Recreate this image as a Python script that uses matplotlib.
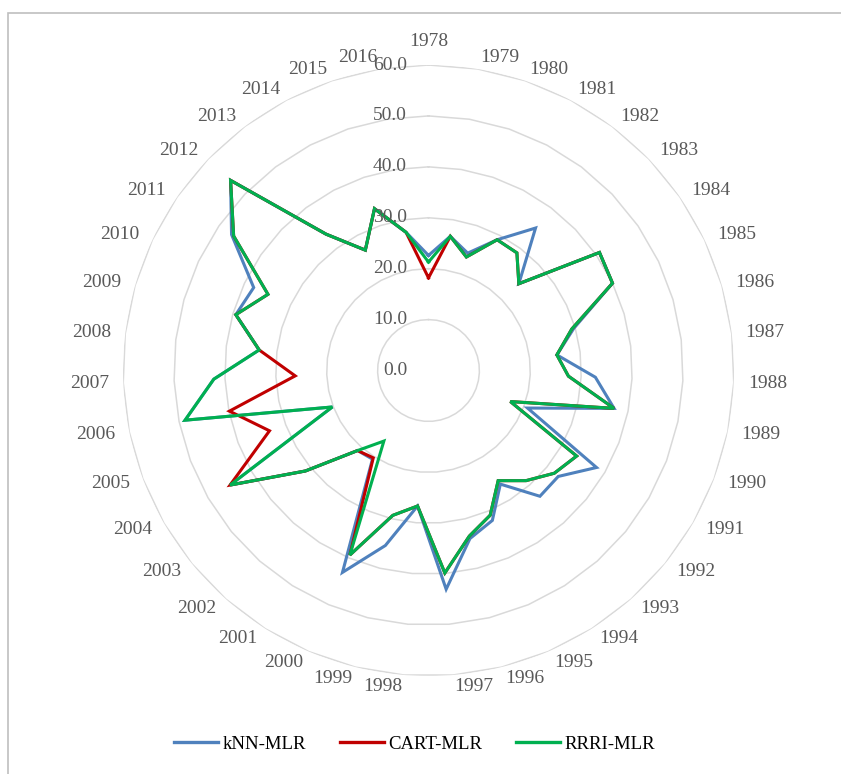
import matplotlib
matplotlib.use("Agg")
import matplotlib.pyplot as plt
from matplotlib.lines import Line2D
from matplotlib.patches import Rectangle
import numpy as np

years = [str(y) for y in range(1978, 2017)]

knn_mlr = [22.6, 26.7, 24.3, 29.0, 35.0, 24.6, 40.8, 40.0, 29.7, 25.4,
           32.8, 37.2, 20.8, 38.1, 32.9, 33.0, 26.4, 32.0, 34.0, 43.1,
           26.7, 35.4, 43.1, 20.6, 21.0, 31.2, 45.0, 20.2, 48.8, 42.2,
           33.5, 39.4, 38.0, 47.0, 53.9, 33.5, 26.7, 33.5, 27.5]
cart_mlr = [18.2, 26.7, 23.5, 29.0, 28.9, 24.6, 40.8, 40.0, 29.3, 25.4,
            27.5, 37.2, 17.2, 33.6, 31.9, 28.9, 25.6, 30.9, 33.5, 39.9,
            26.7, 29.3, 39.4, 20.3, 21.0, 31.2, 45.0, 33.4, 39.9, 26.2,
            33.5, 39.4, 34.9, 46.5, 53.9, 33.5, 26.7, 33.5, 27.5]
rrri_mlr = [21.3, 26.7, 23.5, 29.0, 28.9, 24.6, 40.8, 40.0, 29.3, 25.4,
            27.5, 37.2, 17.2, 33.6, 31.9, 28.9, 25.6, 30.9, 33.5, 39.9,
            26.7, 29.3, 39.4, 16.4, 21.0, 31.2, 45.0, 20.2, 48.8, 42.2,
            33.5, 39.4, 34.9, 46.5, 53.9, 33.5, 26.7, 33.5, 27.5]

series = [('kNN-MLR', knn_mlr, '#4F81BD'),
          ('CART-MLR', cart_mlr, '#C00000'),
          ('RRRI-MLR', rrri_mlr, '#00B050')]
ring_values = [0, 10, 20, 30, 40, 50, 60]

W, H = 841, 774
cx, cy, R = 428.5, 370.5, 305.5
serif = 'Liberation Serif'
gray = '#595959'

fig = plt.figure(figsize=(W / 100, H / 100), dpi=100)
ax = fig.add_axes([(cx - R) / W, (H - cy - R) / H, 2 * R / W, 2 * R / H],
                  projection='polar')
ax.set_theta_zero_location('N')
ax.set_theta_direction(-1)
ax.set_ylim(0, 60)
ax.grid(False)
ax.set_xticks([])
ax.set_yticks([])
ax.spines['polar'].set_visible(False)
ax.patch.set_alpha(0)

n = len(years)
theta = np.arange(n) * 2 * np.pi / n
theta_closed = np.append(theta, theta[0])

# polygon grid like excel radar
for rv in ring_values[1:]:
    ax.plot(theta_closed, [rv] * (n + 1), color='#D9D9D9', lw=1.1, zorder=1)

for name, vals, col in series:
    ax.plot(theta_closed, vals + vals[:1], color=col, lw=2.2, zorder=3,
            solid_joinstyle='miter')

# radial value labels
for rv in ring_values:
    ax.annotate(f'{rv:.1f}', xy=(0, rv), xytext=(-21.5, 0),
                textcoords='offset pixels', ha='right', va='center',
                fontsize=14, family=serif, color=gray, zorder=4)

# category labels
for t, lab in zip(theta, years):
    s, c = np.sin(t), np.cos(t)
    if abs(s) < 0.02:
        ha, dx, dy = 'center', 0, 24 * np.sign(c)
    else:
        ha = 'left' if s > 0 else 'right'
        dx, dy = 14 * s, 12 * c
    ax.annotate(lab, xy=(t, 60), xytext=(dx, dy), textcoords='offset pixels',
                ha=ha, va='center', fontsize=14, family=serif, color=gray,
                annotation_clip=False)

handles = [Line2D([], [], color=col, lw=2.4) for _, _, col in series]
fig.legend(handles, [s[0] for s in series], loc='center',
           bbox_to_anchor=(414.5 / W, 1 - 744 / H), ncol=3, frameon=False,
           prop={'family': serif, 'size': 13.5}, handlelength=2.35,
           handletextpad=0.25, columnspacing=1.8)

fig.patches.append(Rectangle((8 / W, -0.5), 2, 0.5 + 1 - 13 / H,
                             transform=fig.transFigure, fill=False,
                             edgecolor='#BFBFBF', lw=1.2))

fig.savefig('out.png', dpi=100)
